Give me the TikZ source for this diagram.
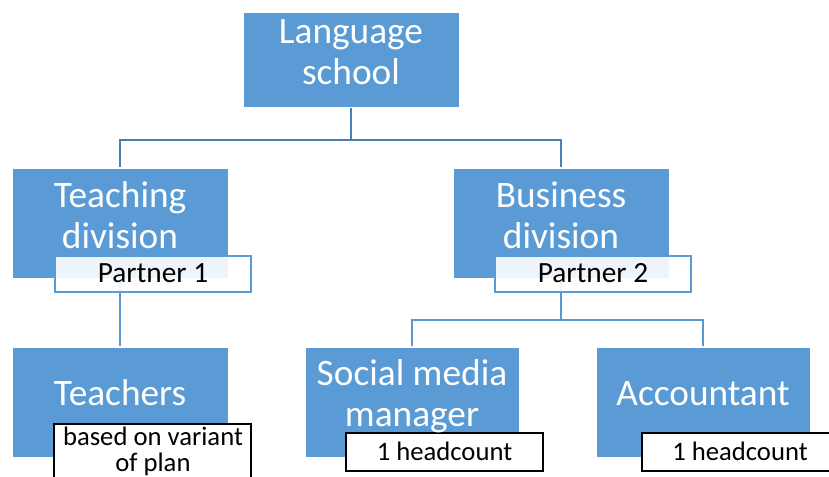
\documentclass[tikz,border=0pt]{standalone}
\usepackage{fontspec}
\setmainfont{Carlito}
\definecolor{boxblue}{HTML}{5B9BD5}
\definecolor{topline}{HTML}{4A7EB4}
\definecolor{lowline}{HTML}{5A96CF}
\begin{document}
\begin{tikzpicture}[x=0.75pt,y=-0.75pt,
  bluebox/.style={fill=boxblue, draw=white, line width=0.75pt, minimum width=162pt, minimum height=82.5pt, inner sep=0pt},
  ttl/.style={text=white, font=\fontsize{28}{31}\selectfont, anchor=base, inner sep=0pt},
  partnerbox/.style={fill=white, fill opacity=0.9, draw=boxblue, draw opacity=1, line width=1.5pt, minimum width=147pt, minimum height=27pt, inner sep=0pt},
  ptxt/.style={text=black, font=\fontsize{22}{25}\selectfont, anchor=base, inner sep=0pt},
  notebox/.style={fill=white, draw=black, line width=1.5pt, minimum width=147.75pt, minimum height=28.5pt, inner sep=0pt},
  ntxt/.style={text=black, font=\fontsize{20}{21}\selectfont, anchor=base, inner sep=0pt},
  topconn/.style={draw=topline, line width=1.5pt},
  lowconn/.style={draw=lowline, line width=1.5pt}]
\useasboundingbox (0,0) rectangle (829,476);
\clip (0,0) rectangle (829,476);
% box positions
\coordinate (lsc) at (351,59.5);
\coordinate (tdc) at (120,223);
\coordinate (bdc) at (561,223);
\coordinate (tcc) at (120,402);
\coordinate (smc) at (412,402);
\coordinate (acc) at (703,402);
% boxes (nodes first so connectors can refer to them)
\node[bluebox, minimum height=71.25pt] (ls) at (lsc) {};
\node[bluebox] (td) at (tdc) {};
\node[bluebox] (bd) at (bdc) {};
\node[bluebox] (tc) at (tcc) {};
\node[bluebox, minimum width=160.5pt] (sm) at (smc) {};
\node[bluebox, minimum width=160.5pt] (ac) at (acc) {};
% connectors
\coordinate (j1) at (351,140);
\coordinate (j2) at (561,320);
\draw[topconn] (ls.south) -- (j1);
\draw[topconn] (td.north) |- (j1);
\draw[topconn] (bd.north) |- (j1);
\draw[lowconn] (td.south) -- (tc.north);
\draw[lowconn] (bd.south) -- (j2);
\draw[lowconn] (sm.north) |- (j2);
\draw[lowconn] (ac.north) |- (j2);
% redraw box outlines over connector ends
\foreach \b in {ls,td,bd,tc,sm,ac}{\draw[white, line width=0.75pt] (\b.north west) rectangle (\b.south east);}
% partner boxes
\node[partnerbox] (p1) at (153,274) {};
\node[partnerbox] (p2) at (593,274) {};
% note boxes
\node[notebox] (hc1) at (444.5,452) {};
\node[notebox] (hc2) at (740,452) {};
\node[notebox, minimum height=52.5pt] (bv) at (152.5,459) {};
% texts
\node[ttl] (ls1) at (351,43) {Language};
\node[ttl] (ls2) at (351,84) {school};
\node[ttl] (td1) at (120,207) {Teaching};
\node[ttl] (td2) at (120,248) {division};
\node[ttl] (bd1) at (561,207) {Business};
\node[ttl] (bd2) at (561,248) {division};
\node[ttl] (tc1) at (120,405) {Teachers};
\node[ttl] (sm1) at (412,385) {Social media};
\node[ttl] (sm2) at (412,426) {manager};
\node[ttl] (ac1) at (703,405) {Accountant};
\node[ptxt] (p1t) at (153,282) {Partner 1};
\node[ptxt] (p2t) at (593,282) {Partner 2};
\node[ntxt] (hc1t) at (444.5,460) {1 headcount};
\node[ntxt] (hc2t) at (740,460) {1 headcount};
\node[ntxt] (bv1) at (153,445) {based on variant};
\node[ntxt] (bv2) at (153,471) {of plan};
\end{tikzpicture}
\end{document}
